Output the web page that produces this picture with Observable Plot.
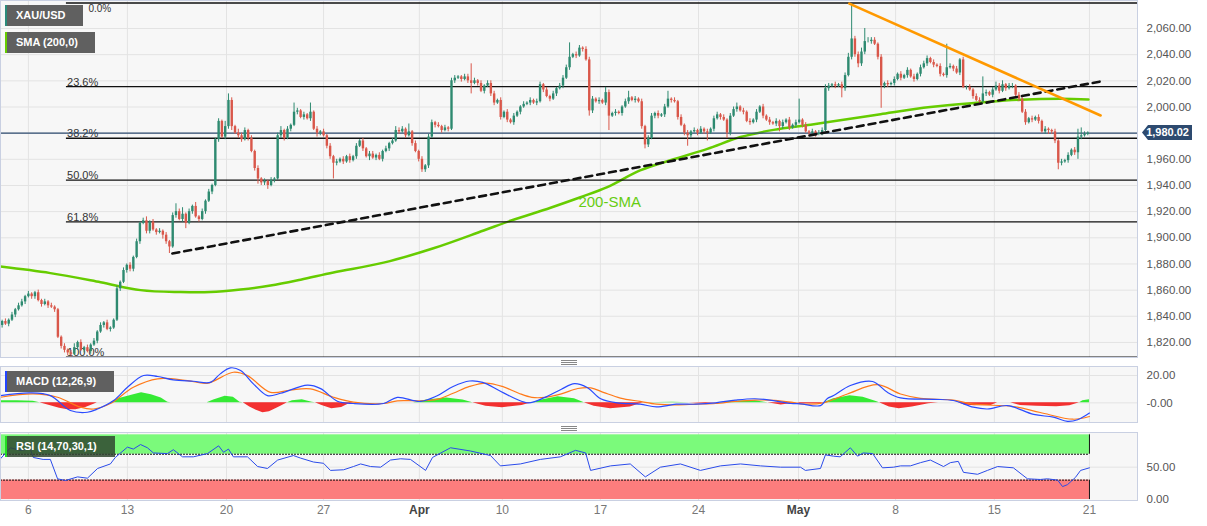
<!DOCTYPE html>
<html><head><meta charset="utf-8">
<script src="https://cdn.jsdelivr.net/npm/d3@7"></script>
<script src="https://cdn.jsdelivr.net/npm/@observablehq/plot@0.6"></script>
<style>
body{margin:0;background:#fff;font-family:"Liberation Sans",Arial,sans-serif;}
#wrap{position:relative;width:1207px;height:526px;overflow:hidden;background:#fff;}
.pane{position:absolute;left:0;}
.tag{position:absolute;left:5px;height:21px;background:#606060;color:#fff;font:bold 11px "Liberation Sans",Arial,sans-serif;line-height:21px;padding-left:9px;box-sizing:border-box;border-left:2px solid;white-space:nowrap;}
.price{position:absolute;left:1142px;top:125px;width:50px;height:15px;background:#2d4a6f;color:#fff;font:bold 11px "Liberation Sans",Arial,sans-serif;line-height:15px;text-align:right;padding-right:3px;box-sizing:border-box;clip-path:polygon(0 50%,6px 0,100% 0,100% 100%,6px 100%);}
.grip{position:absolute;left:561px;width:16px;height:5px;border-top:1px solid #888;border-bottom:1px solid #888;box-sizing:border-box;}
.grip:after{content:"";position:absolute;left:0;right:0;top:1px;border-top:1px solid #888;}
</style></head><body><div id="wrap"></div><script>
// ---------- data ----------
const tickSlots = [8.5, 38.7, 68.9, 98.5, 127.7, 153, 182.9, 212.8, 243.3, 272.9, 303, 332];
const tickLabels = ["6","13","20","27","Apr","10","17","24","May","8","15","21"];
const priceTicks = [1820,1840,1860,1880,1900,1920,1940,1960,1980,2000,2020,2040,2060];
const fibLabels = ["0.0%","23.6%","38.2%","50.0%","61.8%","100.0%"];
const fibValues = [2079.5, 2015.6, 1976.1, 1944.1, 1912.1, 1808.7];
const lastPrice = 1980.02;
const firstOpen = 1833;
const closes = [
1836,1834,1837,1841,1845,1848,1851,1855,1857,1855,
1858,1852,1849,1851,1848,1847,1845,1824,1817,1814,
1812,1811,1816,1820,1814,1816,1813,1818,1821,1828,
1833,1835,1830,1831,1837,1861,1866,1875,1879,1876,
1885,1897,1911,1913,1905,1912,1906,1904,1905,1902,
1897,1893,1917,1920,1914,1918,1911,1920,1924,1916,
1914,1920,1928,1935,1940,1975,1989,1977,1985,2005,
1985,1980,1978,1975,1982,1976,1966,1953,1945,1942,
1943,1940,1944,1945,1978,1982,1976,1983,1986,1996,
1997,1992,1994,1991,1996,1983,1980,1981,1978,1970,
1962,1957,1958,1960,1958,1962,1959,1962,1970,1974,
1968,1962,1964,1961,1963,1960,1966,1968,1972,1974,
1982,1981,1983,1978,1981,1972,1966,1960,1952,1955,
1977,1988,1986,1985,1982,1984,1983,2020,2022,2023,
2021,2023,2020,2018,2020,2018,2012,2016,2018,2010,
2003,2005,1992,1996,1990,1988,1993,1996,2000,2002,
2003,2005,2003,2004,2017,2013,2008,2006,2010,2014,
2016,2022,2030,2038,2040,2039,2045,2044,2036,1997,
2006,2004,2005,2003,2011,1993,1995,1996,1995,2000,
2004,2007,2005,2006,2004,1985,1971,1976,1993,1995,
1993,1994,2000,2006,2005,2004,1992,1986,1980,1978,
1981,1982,1980,1983,1981,1980,1983,1991,1994,1992,
1990,1980,1993,1998,2000,1997,1996,1989,1988,1990,
1996,2000,1993,1990,1988,1987,1989,1985,1988,1990,
1984,1986,1988,1990,1986,1981,1980,1981,1979,1980,
1982,2014,2016,2017,2016,2017,2014,2024,2038,2052,
2040,2033,2042,2050,2050,2051,2048,2038,2016,2018,
2017,2018,2021,2025,2022,2024,2028,2023,2021,2025,
2030,2033,2037,2034,2032,2031,2025,2024,2030,2031,
2029,2026,2036,2015,2015,2013,2008,2005,2004,2010,
2011,2009,2013,2016,2012,2017,2014,2016,2016,2009,
2006,1996,1988,1991,1990,1992,1989,1981,1983,1982,
1981,1974,1957,1958,1959,1963,1967,1965,1977,1978,
1979,1980.02];
const upperWick = [
1,2,1,2,1,2,2,1,2,1, 1,2,1,2,1,2,1,1,1,2, 1,2,3,1,2,1,2,1,2,1, 2,1,2,1,1,2,1,2,1,2,
1,2,1,2,3,1,2,1,2,1, 2,1,2,6,2,5,1,2,1,3, 1,2,1,2,1,1,2,1,4,5, 2,1,3,2,2,1,2,1,2,1,
2,1,2,1,2,3,1,2,1,7, 2,1,2,1,7,1,2,1,2,1, 2,1,2,1,2,1,2,1,2,1, 2,1,2,2,1,2,1,2,1,2,
3,2,2,1,6,1,2,1,2,1, 2,2,1,2,1,2,1,2,2,1, 1,2,2,13,2,1,2,1,2,2, 2,1,2,1,2,1,2,1,1,2,
1,2,1,2,2,1,2,1,2,1, 2,2,2,11,1,2,2,1,2,2, 2,1,2,1,4,2,1,2,1,1, 2,5,1,2,1,2,1,2,2,1,
2,1,2,6,1,2,1,2,1,2, 1,2,1,2,1,2,1,2,2,1, 2,1,2,2,3,1,2,1,2,1, 2,1,2,1,2,1,2,1,2,1,
2,1,2,16,1,2,1,2,1,2, 2,3,2,1,2,1,2,2,3,27, 2,2,3,10,3,2,2,1,2,1, 2,1,2,1,2,1,2,1,2,1,
2,2,2,1,2,1,2,1,18,2, 1,2,1,2,1,2,1,2,2,13, 2,1,2,3,2,3,1,2,2,1, 2,1,2,1,2,1,2,1,2,1,
1,2,1,2,1,2,1,2,6,6, 2,1];
const lowerWick = [
2,1,2,1,2,1,1,2,1,2, 2,1,2,1,2,1,2,1,2,2, 2,2,1,2,1,2,1,2,1,2, 1,2,1,2,1,1,2,1,2,2,
2,1,2,1,2,2,1,2,1,3, 2,5,1,2,1,2,4,1,2,1, 2,1,2,1,2,1,2,1,2,2, 3,1,2,2,1,2,1,2,4,2,
2,3,1,2,1,2,2,1,2,1, 2,1,2,1,2,1,3,2,1,2, 2,12,2,1,2,1,2,1,2,1, 2,1,3,1,2,1,2,1,2,1,
1,2,1,2,1,2,1,2,2,2, 2,1,2,1,2,1,2,1,2,1, 2,1,2,8,1,2,1,2,1,2, 2,1,2,1,2,1,2,1,2,1,
1,2,1,2,1,2,1,2,1,2, 1,2,1,2,1,2,1,2,1,4, 2,1,2,1,2,11,1,2,1,2, 1,2,1,2,1,2,3,2,1,2,
2,1,2,1,2,1,2,1,2,8, 2,1,2,1,2,6,1,2,1,2, 1,4,2,1,2,1,2,1,2,1, 2,1,2,1,2,1,2,4,2,1,
2,1,2,1,2,1,2,1,2,1, 2,1,2,1,2,1,7,2,1,2, 2,3,2,2,1,2,1,2,17,2, 2,1,2,1,2,1,2,1,2,1,
2,1,2,1,2,1,2,1,2,1, 2,1,2,1,2,1,2,1,2,1, 2,1,2,1,2,1,2,1,2,1, 2,1,2,1,2,1,2,1,2,3,
2,2,5,2,1,2,1,2,5,2, 1,1];
const smaSlot = [0,15.2,30.5,42.7,54.9,64,73.2,82.3,91.5,101.5,116.8,132,147.3,155.5,167.7,176.8,185,195,205.2,215.5,225.6,235.7,247,259.1,268.3,283.5,298.8,311,323.2,331.7];
const smaValue = [1878,1873,1866,1860,1858.5,1858.5,1860.5,1863.5,1868,1873.5,1881,1892,1905.6,1913,1923,1931,1938.7,1951.5,1960,1968,1977,1982.5,1986.5,1991,1994.5,2000,2003.4,2005.6,2006.3,2005.8];
const supportSlot = [52.4, 335.4], supportValue = [1888, 2019.5];
const resistSlot = [258.8, 335.4], resistValue = [2079, 1993.5];
const macdSlot = [0,9.1,15.2,21.3,26.5,29.6,34.5,38.7,43.6,47.9,52.7,58.8,64,67,70.1,73.2,77.1,81.4,85.4,93.6,97.6,102.7,107.6,116.8,121,128,133,138,143,147,152,157,161,166,171,175,179,183,188,195,200,206,212,218,224,230,236,241,243.9,250,252.1,254,259.1,265.9,270.4,274.4,284.5,290.5,296.6,300.9,307,315,321,325.3,328.4,332];
const macdValue = [5.3,7.3,5.3,-5.6,-6.9,-4.5,1.7,11.4,20,19.3,16.8,15.8,15,21.2,25.6,23.7,13.9,5.3,7,12.9,10.4,1.2,-0.5,-0.5,4,1,5,12,16,15,9,3,0,4,10,14,11,3,0,-1,-3,-1,-1,0,2,3,1.5,-0.5,-0.7,-2,3.2,5.3,12.7,15.6,7.7,3.6,2.6,1.7,-3.2,-4.5,-2,-8.5,-10.5,-13.6,-12.4,-7.5];
const signalSlot = [0,10,17.4,24.4,28.4,33.5,40.5,47.9,57,63,71,75.3,82.3,88.4,94.5,101.5,107.6,116.8,121,128,133,138,143,148,153,158,162,166,171,176,180,184,189,195,200,206,212,218,224,230,236,241,244,250.9,258.2,267.4,274.4,280.5,290.5,296.6,308.8,317,327,332];
const signalValue = [4.1,6.5,4.1,-3.2,-4.5,-0.5,11.4,17.6,16.3,14.3,22.4,19.9,7.7,9.4,10.2,4.1,0.5,-0.5,1.5,1.5,2.5,7,12,14.5,12,7,4,4,6.5,10.5,11,7.5,3.5,1,-1,-1.5,-1,-0.5,1,2,1.8,0.5,-0.7,0,6.5,13.3,6.5,3.3,2,-1,-2.7,-7.1,-12,-10];
const histSlot = [0,5,10,12,15,18,20.5,23,26,28.5,29.5,33.5,36,40,43,46,49,51,52,60,63,65,68.5,71,73,74,76,78,80,82,85,87.5,89,92,95,96,98,101,104,106,108,121,126,130,136,141,144,148,153,159,162,165,170,175,178,181,186,192,196,205,210,215,219,222,230,234,238,243,244,250,251,254,259,263,267,268,271,274,278,283,286,292,294,297,302,304,308,311,316,322,326,329,330,332];
const histValue = [1.5,1.5,1.2,0,-2,-4,-5.1,-5,-3.5,-1,0,0,3,5.5,7.3,6,3.5,0.5,0,0,0,2,4.9,4,0.5,0,-3,-5.5,-7.3,-6.5,-3,0,1.5,2.2,0.5,0,-2,-4.4,-3.5,-1,0,0,0,2,3.6,2,0,-2.5,-3.6,-2,0,2,4.4,3,0,-2.5,-4.4,-3,0,0.5,0,-0.5,0,1,1.5,0,-1.5,0,-0.7,-0.7,0,3,5.1,4,1,0,-3,-4.4,-3,-0.7,0,0,-1.5,-2.2,-2,0,0,-2,-2.5,-2.9,-2.2,0,1.5,2.2];
const rsiSlot = [0,3,6,9.1,10,13,15.2,17.4,19.8,23.5,26.5,29.6,33.5,35,38.7,40.5,42.7,44.8,46.6,50.9,52.7,55.5,58.8,63.1,66.5,68,69.5,71,75.3,78.4,81.4,84.5,89.3,91.5,95.4,98.5,100.6,104.6,107.6,109.8,112.8,115.9,118.9,122,125,129.6,131.7,137.2,143.3,149.4,152.4,158.5,164.6,170.7,175.3,178.4,179.9,186,192,196.6,201.2,207.3,213.4,219.5,225.6,231.7,237.8,243.9,245.4,250,251.5,254,256,259.1,261.3,263,265.9,268.9,272.3,274.4,277.4,280.5,283.5,287.5,289.6,292,293.6,297.9,300.9,304,308.8,313.1,317,319.2,322.3,323.8,325.3,327.7,329.3,332];
const rsiValue = [63,80,76,78,65,62,62,32,29.4,35,33,48,55,65,81,78,85,80,72,71,77,66,66,71,83,73,78,66,66,51,48,61,68,64,58,56,45,46,51,55,51,50,61,63,62,45,65,80,75,68,52,55,62,66,76,72,45,52,55,35,50,55,45,52,55,52,50,50,45,48,69,67,66,80,67,72,71,49,50,52,52,57,61,51,57,59,42,39,45,51,49,32,31,32,30,20,23,34,45,49];

// ---------- build ----------
const W = 1207, MR = 70, XD = [0, 346.65];
const G = "#2e8a70", R = "#d9574a";
const candles = closes.map((c, i) => {
  const o = i ? closes[i - 1] : firstOpen;
  return {x: i + 0.5, o, c, h: Math.max(o, c) + upperWick[i], l: Math.min(o, c) - lowerWick[i], col: c >= o ? G : R};
});
const zip = (xs, ys) => xs.map((x, i) => ({x, y: ys[i]}));
const sma = zip(smaSlot, smaValue), sup = zip(supportSlot, supportValue), res = zip(resistSlot, resistValue);
const macd = zip(macdSlot, macdValue), sig = zip(signalSlot, signalValue), hist = zip(histSlot, histValue), rsi = zip(rsiSlot, rsiValue);
const fibs = fibLabels.map((t, i) => ({t, v: fibValues[i], top: i === 0}));
const ticks = tickLabels.map((t, i) => ({t, x: tickSlots[i], bold: t === "Apr" || t === "May"}));
const GRID = "#e3e3e3", BORDER = "#c9d0e2", BG = "#f7f7f7";
const fontFamily = "Liberation Sans, Arial, sans-serif";

const main = Plot.plot({
  width: W, height: 360, marginLeft: 0, marginRight: MR, marginTop: 0, marginBottom: 3,
  style: {fontFamily, background: "transparent"},
  x: {domain: XD, axis: null}, y: {domain: [1808.5, 2081.4], axis: null},
  color: {type: "identity"},
  marks: [
    Plot.frame({fill: BG}),
    Plot.gridX(tickSlots, {stroke: GRID, strokeOpacity: 1}),
    Plot.gridY(priceTicks, {stroke: GRID, strokeOpacity: 1}),
    Plot.line(sma, {x: "x", y: "y", stroke: "#66cc00", strokeWidth: 2.5, curve: "catmull-rom"}),
    Plot.ruleY(fibs, {y: "v", x1: 20.1, x2: XD[1], stroke: "#111", strokeWidth: 1.3}),
    Plot.text(fibs.filter(d => !d.top), {x: 20.3, y: "v", text: "t", textAnchor: "start", lineAnchor: "bottom", dy: -1, fontSize: 11, fill: "#333"}),
    Plot.text(fibs.filter(d => d.top), {x: 26.8, y: "v", text: "t", textAnchor: "start", lineAnchor: "top", dy: 2, fontSize: 10, fill: "#333"}),
    Plot.ruleY([lastPrice], {stroke: "#2d4a6f", strokeWidth: 1.2}),
    Plot.ruleX(candles, {x: "x", y1: "l", y2: "h", stroke: "col", strokeWidth: 1}),
    Plot.ruleX(candles, {x: "x", y1: "o", y2: "c", stroke: "col", strokeWidth: 2.4}),
    Plot.line(sup, {x: "x", y: "y", stroke: "#111", strokeWidth: 2.6, strokeDasharray: "7,5"}),
    Plot.line(res, {x: "x", y: "y", stroke: "#ff9900", strokeWidth: 2.6}),
    Plot.text(["200-SMA"], {x: 176.2, y: 1927, text: d => d, textAnchor: "start", fontSize: 15, fill: "#66cc11"}),
    Plot.axisY(priceTicks, {anchor: "right", label: null, tickSize: 0, tickPadding: 9, tickFormat: d3.format(",.2f"), fontSize: 11.5, fill: "#555"}),
    Plot.frame({stroke: BORDER})
  ]
});

const macdPlot = Plot.plot({
  width: W, height: 60, marginLeft: 0, marginRight: MR, marginTop: 2, marginBottom: 2,
  style: {fontFamily, background: "transparent"},
  x: {domain: XD, axis: null}, y: {domain: [-14.4, 26.6], axis: null},
  marks: [
    Plot.frame({fill: BG}),
    Plot.gridX(tickSlots, {stroke: GRID, strokeOpacity: 1}),
    Plot.gridY([0, 20], {stroke: GRID, strokeOpacity: 1}),
    Plot.areaY(hist, {x: "x", y1: 0, y2: d => Math.max(0, d.y), fill: "#1fe81f", fillOpacity: 0.9}),
    Plot.areaY(hist, {x: "x", y1: 0, y2: d => Math.min(0, d.y), fill: "#f21a1a", fillOpacity: 0.9}),
    Plot.line(sig, {x: "x", y: "y", stroke: "#ff7a1a", strokeWidth: 1.2, curve: "catmull-rom"}),
    Plot.line(macd, {x: "x", y: "y", stroke: "#2a4bff", strokeWidth: 1.2, curve: "catmull-rom"}),
    Plot.axisY([0, 20], {anchor: "right", label: null, tickSize: 0, tickPadding: 9, tickFormat: d => d === 0 ? "-0.00" : d3.format(".2f")(d), fontSize: 11.5, fill: "#555"}),
    Plot.frame({stroke: BORDER})
  ]
});

const rsiPlot = Plot.plot({
  width: W, height: 96, marginLeft: 0, marginRight: MR, marginTop: 2, marginBottom: 26,
  style: {fontFamily, background: "transparent", overflow: "visible"},
  x: {domain: XD, axis: null}, y: {domain: [-1.5, 103.6], axis: null},
  marks: [
    Plot.frame({fill: BG}),
    Plot.gridX(tickSlots, {stroke: GRID, strokeOpacity: 1}),
    Plot.gridY([50], {stroke: GRID, strokeOpacity: 1}),
    Plot.rect([{a: 70, b: 100}], {x1: 0, x2: 332, y1: "a", y2: "b", fill: "#7bfa7b"}),
    Plot.rect([{a: 0, b: 30}], {x1: 0, x2: 332, y1: "a", y2: "b", fill: "#fc7d7d"}),
    Plot.ruleY([70, 30], {x1: 0, x2: 332, stroke: "#111", strokeWidth: 1, strokeDasharray: "2,1"}),
    Plot.ruleX([{a: 70, b: 100}, {a: 0, b: 30}], {x: 332, y1: "a", y2: "b", stroke: "#111"}),
    Plot.line(rsi, {x: "x", y: "y", stroke: "#2a4bea", strokeWidth: 1}),
    Plot.axisY([0, 50], {anchor: "right", label: null, tickSize: 0, tickPadding: 9, tickFormat: d3.format(".2f"), fontSize: 11.5, fill: "#555"}),
    Plot.text(ticks.filter(d => !d.bold), {x: "x", text: "t", frameAnchor: "bottom", dy: 13, fontSize: 12, fill: "#777"}),
    Plot.text(ticks.filter(d => d.bold), {x: "x", text: "t", frameAnchor: "bottom", dy: 13, fontSize: 12, fontWeight: "bold", fill: "#444"}),
    Plot.frame({stroke: BORDER})
  ]
});

const wrap = document.getElementById("wrap");
function place(el, top) { el.classList.add("pane"); el.style.top = top + "px"; wrap.appendChild(el); }
place(main, 0);
place(macdPlot, 364);
place(rsiPlot, 430);

function tag(text, top, width, accent, bg) {
  const d = document.createElement("div");
  d.className = "tag"; d.textContent = text;
  d.style.top = top + "px"; d.style.width = width + "px"; d.style.borderLeftColor = accent;
  if (bg) d.style.background = bg;
  wrap.appendChild(d);
}
tag("XAU/USD", 5, 78, "#2a8a7a");
tag("SMA (200,0)", 32, 90, "#66cc00");
tag("MACD (12,26,9)", 371, 109, "#2244ff");
tag("RSI (14,70,30,1)", 436, 110, "#22dd22", "rgba(48,70,48,0.85)");

const p = document.createElement("div");
p.className = "price"; p.textContent = d3.format(",.2f")(lastPrice);
wrap.appendChild(p);
for (const t of [360, 426]) { const g = document.createElement("div"); g.className = "grip"; g.style.top = t + "px"; wrap.appendChild(g); }
</script></body></html>
